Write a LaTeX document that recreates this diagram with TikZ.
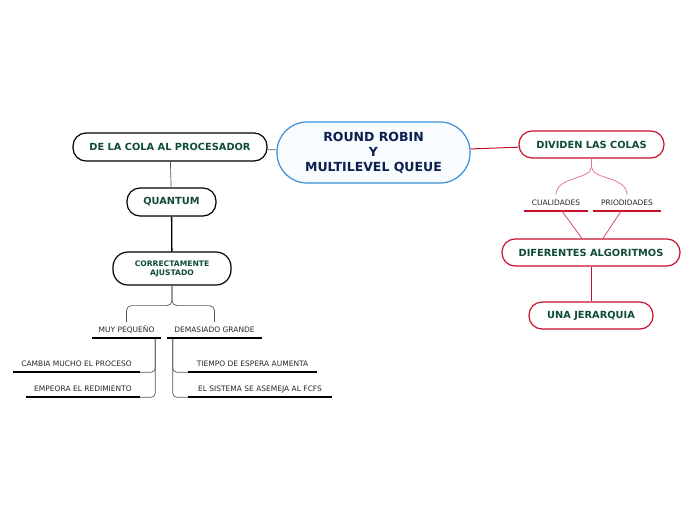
\documentclass[tikz,border=0pt]{standalone}
\usepackage{fontspec}
\setmainfont{DejaVu Sans}
\definecolor{rrblue}{HTML}{3A8ED4}
\definecolor{rrnavy}{HTML}{0B1F4F}
\definecolor{rrgreen}{HTML}{0E4C35}
\definecolor{rrred}{HTML}{C8102E}
\definecolor{rrpink}{HTML}{E27A8C}
\definecolor{rrgray}{HTML}{555555}
\usetikzlibrary{positioning}

\begin{document}
\begin{tikzpicture}[x=1pt,y=-1pt,
  topic/.style={draw=black,line width=1.2pt,rounded corners=13pt,fill=white,text=rrgreen,font=\fontsize{9.8}{11}\selectfont\bfseries,inner sep=0pt},
  redtopic/.style={topic,draw=rrred},
  sublabel/.style={inner sep=0pt,minimum height=16pt,font=\fontsize{7.5}{9}\selectfont,text=black!85},
  uline/.style={line width=1.6pt},
  link/.style={draw=rrgray,line width=0.7pt},
  redlink/.style={draw=rrred,line width=1pt},
  pinklink/.style={draw=rrpink,line width=0.8pt}]
\useasboundingbox (0,0) rectangle (696,520);
\node (central) at (373.5,152.5) [topic,draw=rrblue,fill=rrblue!3,text=rrnavy,rounded corners=30pt,minimum width=193,minimum height=61,align=center,font=\fontsize{12.5}{15}\selectfont\bfseries] {ROUND ROBIN\\Y\\MULTILEVEL QUEUE};
\node (cola) at (170,147) [topic,minimum width=194,minimum height=28] {DE LA COLA AL PROCESADOR};
\node (quantum) at (171.5,202) [topic,minimum width=89,minimum height=28] {QUANTUM};
\node (ajustado) at (172,268.5) [topic,rounded corners=15pt,minimum width=118,minimum height=33,align=center,font=\fontsize{7.6}{9}\selectfont\bfseries] {CORRECTAMENTE\\AJUSTADO};
\node (pequeno) at (126.5,330) [sublabel,minimum width=69] {MUY PEQUEÑO};
\node (grande) at (214.5,330) [sublabel,minimum width=95] {DEMASIADO GRANDE};
\node (cambia) at (76.5,364) [sublabel,minimum width=127] {CAMBIA MUCHO EL PROCESO};
\node (empeora) at (83,389) [sublabel,minimum width=114] {EMPEORA EL REDIMIENTO};
\node (tiempo) at (252.5,364) [sublabel,minimum width=128] {TIEMPO DE ESPERA AUMENTA};
\node (sistema) at (260,389) [sublabel,minimum width=143] {EL SISTEMA SE ASEMEJA AL FCFS};
\node (dividen) at (591.5,144.5) [redtopic,minimum width=145,minimum height=27] {DIVIDEN LAS COLAS};
\node (cualidades) at (556,203) [sublabel,minimum width=64] {CUALIDADES};
\node (prioridades) at (627,203) [sublabel,minimum width=68] {PRIODIDADES};
\node (algoritmos) at (591,252.5) [redtopic,minimum width=178,minimum height=27] {DIFERENTES ALGORITMOS};
\node (jerarquia) at (591,315.5) [redtopic,minimum width=124,minimum height=27] {UNA JERARQUIA};
\draw [link] (cola) -- (central);
\draw [link] (cola) -- (quantum);
\draw [link,draw=black,line width=1.3pt] (quantum) -- (ajustado);
\draw [link,rounded corners=5pt] (ajustado.south) -- ++(0,20) -| (pequeno.north);
\draw [link,rounded corners=5pt] (ajustado.south) -- ++(0,20) -| (grande.north);
\draw [link,rounded corners=4pt] ([xshift=-6pt]pequeno.south east) |- (cambia.south east);
\draw [link,rounded corners=4pt] ([xshift=-6pt]pequeno.south east) |- (empeora.south east);
\draw [link,rounded corners=4pt] ([xshift=6pt]grande.south west) |- (tiempo.south west);
\draw [link,rounded corners=4pt] ([xshift=6pt]grande.south west) |- (sistema.south west);
\draw [uline] (pequeno.south west) -- (pequeno.south east);
\draw [uline] (grande.south west) -- (grande.south east);
\draw [uline] (cambia.south west) -- (cambia.south east);
\draw [uline] (empeora.south west) -- (empeora.south east);
\draw [uline] (tiempo.south west) -- (tiempo.south east);
\draw [uline] (sistema.south west) -- (sistema.south east);
\draw [redlink] (central) -- (dividen);
\draw [pinklink] (dividen.south) -- ++(0,8) .. controls (591.5,180) and (556,176) .. (cualidades.north);
\draw [pinklink] (dividen.south) -- ++(0,8) .. controls (591.5,180) and (627,176) .. (prioridades.north);
\draw [uline,rrred] (cualidades.south west) -- (cualidades.south east);
\draw [uline,rrred] (prioridades.south west) -- (prioridades.south east);
\draw [pinklink,draw=rrred!75] ([xshift=6pt]cualidades.south) -- ([xshift=-9pt]algoritmos.north);
\draw [pinklink,draw=rrred!75] ([xshift=-6pt]prioridades.south) -- ([xshift=12pt]algoritmos.north);
\draw [redlink] (algoritmos) -- (jerarquia);
\end{tikzpicture}
\end{document}
